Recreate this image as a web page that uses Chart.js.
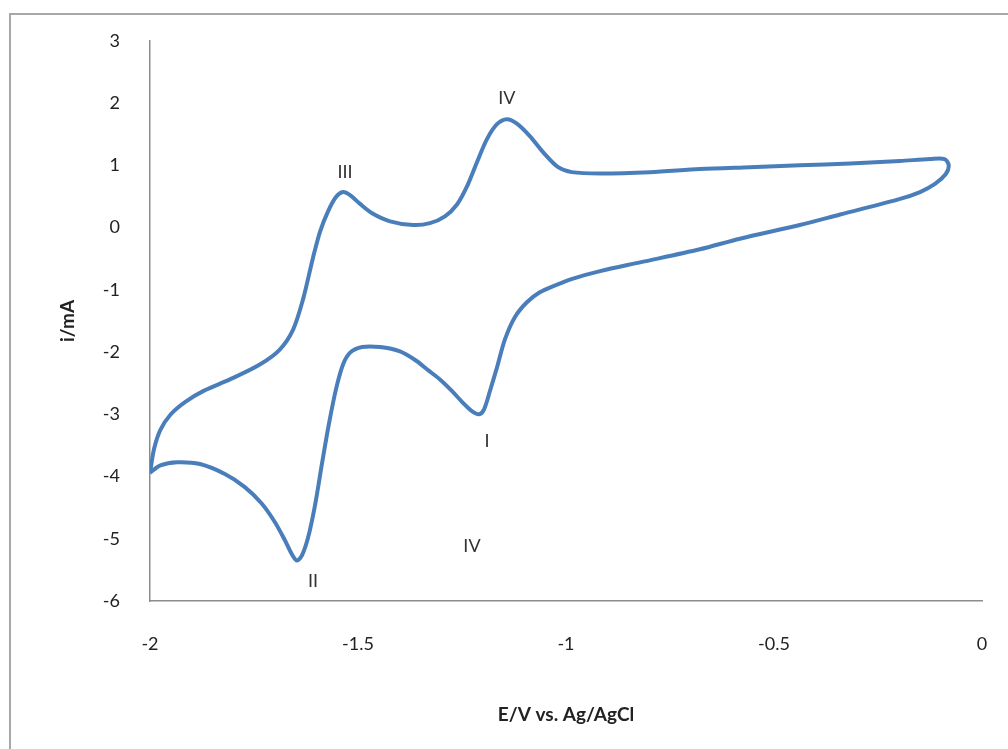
<!DOCTYPE html>
<html>
<head>
<meta charset="utf-8">
<title>Cyclic voltammogram</title>
<script src="https://cdn.jsdelivr.net/npm/chart.js@4.4.1/dist/chart.umd.min.js"></script>
<style>
  html, body { margin: 0; padding: 0; background: #fff; overflow: hidden; }
  #wrap { position: relative; width: 1008px; height: 749px; }
  /* outer chart frame, only left and top edges are visible */
  #frame { position: absolute; left: 9px; top: 13px; width: 1200px; height: 900px; border: 2px solid #a8a8a8; }
  canvas { position: absolute; left: 0; top: 0; }
</style>
</head>
<body>
<div id="wrap">
  <div id="frame"></div>
  <canvas id="cv" width="1008" height="749"></canvas>
</div>
<script>
// potential (V) and current (mA), one closed loop
var potential = [
  -2.000, -1.990, -1.975, -1.950, -1.915, -1.870, -1.808, -1.736, -1.688, -1.656, -1.632,
  -1.608, -1.591, -1.572, -1.553, -1.536, -1.519, -1.495, -1.466, -1.423, -1.368,
  -1.327, -1.291, -1.262, -1.238, -1.214, -1.190, -1.166, -1.142, -1.118, -1.087,
  -1.051, -1.019, -0.986, -0.918, -0.798, -0.678, -0.558, -0.438, -0.317, -0.197,
  -0.125, -0.090, -0.080,
  -0.087, -0.113, -0.149, -0.197, -0.341, -0.438, -0.582, -0.678, -0.822, -0.918,
  -0.983, -1.026, -1.063, -1.094, -1.123, -1.147, -1.166, -1.183, -1.197, -1.209,
  -1.228, -1.250, -1.275, -1.303, -1.330, -1.360, -1.399, -1.447, -1.490, -1.519, -1.536,
  -1.553, -1.570, -1.587, -1.603, -1.620, -1.635, -1.647, -1.659, -1.676, -1.700,
  -1.732, -1.772, -1.820, -1.880, -1.935, -1.975, -2.000
];
var current = [
  -3.94, -3.55, -3.25, -3.00, -2.80, -2.62, -2.44, -2.20, -1.96, -1.64, -1.15,
  -0.48, -0.06, 0.26, 0.49, 0.57, 0.52, 0.38, 0.23, 0.10, 0.04,
  0.07, 0.18, 0.37, 0.66, 1.05, 1.42, 1.66, 1.74, 1.67, 1.47,
  1.18, 0.97, 0.89, 0.87, 0.89, 0.94, 0.97, 1.00, 1.03, 1.07,
  1.10, 1.10, 1.00,
  0.86, 0.70, 0.57, 0.46, 0.21, 0.04, -0.18, -0.35, -0.56, -0.70,
  -0.82, -0.93, -1.04, -1.20, -1.44, -1.80, -2.25, -2.63, -2.92, -3.00,
  -2.94, -2.80, -2.62, -2.44, -2.30, -2.14, -1.99, -1.92, -1.92, -2.01, -2.20,
  -2.60, -3.16, -3.81, -4.45, -4.98, -5.27, -5.35, -5.25, -5.02, -4.73,
  -4.43, -4.17, -3.96, -3.80, -3.77, -3.82, -3.94
];

// peak labels and where they sit (data units)
var peakNames = ['IV', 'III', 'I', 'II', 'IV'];
var peakX = [-1.142, -1.531, -1.190, -1.608, -1.226];
var peakY = [2.08, 0.89, -3.43, -5.68, -5.12];

var points = potential.map(function (e, i) { return { x: e, y: current[i] }; });

// draws the roman numerals next to the peaks
var peakLabels = {
  id: 'peakLabels',
  afterDatasetsDraw: function (chart) {
    var ctx = chart.ctx;
    var xs = chart.scales.x, ys = chart.scales.y;
    ctx.save();
    ctx.font = '18px Lato';
    ctx.fillStyle = '#333333';
    ctx.textAlign = 'center';
    ctx.textBaseline = 'middle';
    peakNames.forEach(function (name, i) {
      ctx.fillText(name, xs.getPixelForValue(peakX[i]), ys.getPixelForValue(peakY[i]));
    });
    ctx.restore();
  }
};

var tickFont = { family: 'Lato', size: 18 };
var titleFont = { family: 'Lato', size: 19, weight: 'bold' };

new Chart(document.getElementById('cv').getContext('2d'), {
  type: 'scatter',
  data: {
    datasets: [{
      data: points,
      showLine: true,
      borderColor: '#4a7ebb',
      borderWidth: 4,
      pointRadius: 0,
      tension: 0.3,
      fill: false
    }]
  },
  options: {
    responsive: false,
    animation: false,
    layout: { padding: { top: 40, right: 26, left: 0, bottom: 0 } },
    plugins: { legend: { display: false }, tooltip: { enabled: false } },
    scales: {
      x: {
        type: 'linear',
        min: -2, max: 0,
        // invisible tick marks push the labels down without widening the side padding
        grid: { display: true, drawOnChartArea: false, drawTicks: true, tickLength: 32, color: 'rgba(0,0,0,0)' },
        border: { display: true, color: '#8c8c8c', width: 1.5 },
        ticks: {
          stepSize: 0.5, padding: 0, color: '#222', font: tickFont, maxRotation: 0,
          callback: function (v) { return String(v); }
        },
        title: { display: true, text: 'E/V vs. Ag/AgCl', color: '#222', font: titleFont, padding: { bottom: 23 } },
        afterFit: function (scale) { scale.height = 148; }
      },
      y: {
        type: 'linear',
        min: -6, max: 3,
        grid: { display: false, drawTicks: false },
        border: { display: true, color: '#8c8c8c', width: 1.5 },
        ticks: { stepSize: 1, padding: 30, color: '#222', font: tickFont },
        title: { display: true, text: 'i/mA', color: '#222', font: titleFont, padding: { top: 56 } },
        afterFit: function (scale) { scale.width = 150; }
      }
    }
  },
  plugins: [peakLabels]
});
</script>
</body>
</html>
